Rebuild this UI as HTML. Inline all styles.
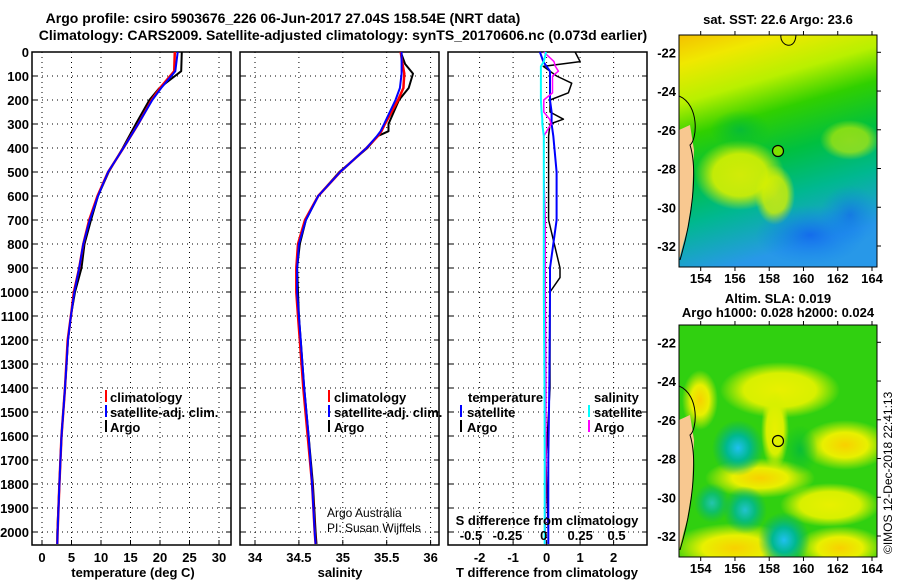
<!DOCTYPE html>
<html><head><meta charset="utf-8">
<style>
html,body{margin:0;padding:0;background:#fff;}
svg{display:block;font-family:"Liberation Sans",Arial,sans-serif;}
.t{font-weight:bold;font-size:14px;}
.tk{font-weight:bold;font-size:13px;}
</style></head>
<body>
<svg id="fig" width="900" height="580" viewBox="0 0 900 580" xmlns="http://www.w3.org/2000/svg">
<defs>
<linearGradient id="sstg" x1="0" y1="0" x2="0.25" y2="1">
<stop offset="0" stop-color="#f4c000"/><stop offset="0.12" stop-color="#f0e800"/>
<stop offset="0.28" stop-color="#b8f000"/><stop offset="0.42" stop-color="#30d000"/>
<stop offset="0.6" stop-color="#00c040"/><stop offset="0.78" stop-color="#00b890"/>
<stop offset="1" stop-color="#2898e8"/></linearGradient>
<radialGradient id="blueS"><stop offset="0" stop-color="#1060f0"/><stop offset="1" stop-color="#1080f0" stop-opacity="0"/></radialGradient>
<radialGradient id="yel"><stop offset="0" stop-color="#f8d000"/><stop offset="0.5" stop-color="#e8f000"/><stop offset="1" stop-color="#e8f000" stop-opacity="0"/></radialGradient>
<radialGradient id="yel2"><stop offset="0" stop-color="#e8f000"/><stop offset="0.6" stop-color="#d8f000"/><stop offset="1" stop-color="#d8f000" stop-opacity="0"/></radialGradient>
<radialGradient id="cy"><stop offset="0" stop-color="#20c0f0"/><stop offset="0.45" stop-color="#00b890"/><stop offset="1" stop-color="#00b070" stop-opacity="0"/></radialGradient>
<radialGradient id="grn"><stop offset="0" stop-color="#00b840"/><stop offset="1" stop-color="#00c030" stop-opacity="0"/></radialGradient>
<clipPath id="m1c"><rect x="679" y="35" width="198" height="232"/></clipPath>
<clipPath id="m2c"><rect x="679" y="325" width="198" height="232"/></clipPath>
</defs>

<text class="t" x="283" y="23" text-anchor="middle">Argo profile: csiro 5903676_226 06-Jun-2017 27.04S 158.54E (NRT data)</text>
<text class="t" x="343" y="40" text-anchor="middle">Climatology: CARS2009. Satellite-adjusted climatology: synTS_20170606.nc (0.073d earlier)</text>

<g id="panels"></g>

<g class="tk">
<line x1="106" y1="390" x2="106" y2="402" stroke="red" stroke-width="2"/><text x="110" y="402">climatology</text>
<line x1="106" y1="405" x2="106" y2="417" stroke="blue" stroke-width="2"/><text x="110" y="417">satellite-adj. clim.</text>
<line x1="106" y1="420" x2="106" y2="432" stroke="black" stroke-width="2"/><text x="110" y="432">Argo</text>
</g>
<g class="tk">
<line x1="329" y1="390" x2="329" y2="402" stroke="red" stroke-width="2"/><text x="334" y="402">climatology</text>
<line x1="329" y1="405" x2="329" y2="417" stroke="blue" stroke-width="2"/><text x="334" y="417">satellite-adj. clim.</text>
<line x1="329" y1="420" x2="329" y2="432" stroke="black" stroke-width="2"/><text x="334" y="432">Argo</text>
</g>
<g class="tk">
<text x="468" y="402">temperature</text><text x="594" y="402">salinity</text>
<line x1="461" y1="405" x2="461" y2="417" stroke="blue" stroke-width="2"/><text x="467" y="417">satellite</text>
<line x1="461" y1="420" x2="461" y2="432" stroke="black" stroke-width="2"/><text x="467" y="432">Argo</text>
<line x1="589" y1="405" x2="589" y2="417" stroke="cyan" stroke-width="2"/><text x="594" y="417">satellite</text>
<line x1="589" y1="420" x2="589" y2="432" stroke="magenta" stroke-width="2"/><text x="594" y="432">Argo</text>
</g>
<text x="327" y="517" font-size="12">Argo Australia</text>
<text x="327" y="532" font-size="12">PI: Susan Wijffels</text>
<text class="tk" x="547" y="525" text-anchor="middle">S difference from climatology</text>

<text class="tk" x="778" y="24" text-anchor="middle">sat. SST: 22.6 Argo: 23.6</text>
<g clip-path="url(#m1c)">
<rect x="679" y="35" width="198" height="232" fill="url(#sstg)"/>
<ellipse cx="740" cy="175" rx="45" ry="35" fill="url(#yel2)" opacity="0.9"/>
<ellipse cx="775" cy="195" rx="20" ry="30" fill="url(#yel2)" opacity="0.8"/>
<ellipse cx="850" cy="140" rx="30" ry="20" fill="url(#yel2)" opacity="0.6"/>
<ellipse cx="810" cy="235" rx="55" ry="30" fill="url(#blueS)" opacity="0.8"/>
<ellipse cx="850" cy="215" rx="30" ry="30" fill="url(#blueS)" opacity="0.6"/>
<ellipse cx="740" cy="130" rx="30" ry="20" fill="url(#grn)" opacity="0.8"/>
<polygon points="679,130 690,125 694,150 692,200 687,230 679,260" fill="#f8c890"/>
<path d="M679,96 C700,105 697,140 690,145 C698,170 692,220 680,260" fill="none" stroke="#000" stroke-width="1"/>
<path d="M781,35 C779,45 795,52 796,35" fill="none" stroke="#000"/>
<circle cx="778" cy="151" r="5.5" fill="#80e000" stroke="#000" stroke-width="1.2"/>
</g>
<rect x="679" y="35" width="198" height="232" fill="none" stroke="#000"/>

<text class="tk" x="778" y="303" text-anchor="middle">Altim. SLA: 0.019</text>
<text class="tk" x="778" y="317" text-anchor="middle">Argo h1000: 0.028 h2000: 0.024</text>
<g clip-path="url(#m2c)">
<rect x="679" y="325" width="198" height="232" fill="#30d010"/>
<ellipse cx="700" cy="400" rx="18" ry="30" fill="url(#yel)"/>
<ellipse cx="780" cy="390" rx="60" ry="28" fill="url(#yel2)"/>
<ellipse cx="845" cy="445" rx="45" ry="25" fill="url(#yel)"/>
<ellipse cx="760" cy="478" rx="55" ry="20" fill="url(#yel)"/>
<ellipse cx="830" cy="505" rx="50" ry="22" fill="url(#yel2)"/>
<ellipse cx="735" cy="548" rx="65" ry="25" fill="url(#yel)"/>
<ellipse cx="840" cy="548" rx="45" ry="22" fill="url(#yel)"/>
<ellipse cx="775" cy="430" rx="14" ry="40" fill="url(#yel2)"/>
<ellipse cx="738" cy="448" rx="26" ry="28" fill="url(#cy)"/>
<ellipse cx="745" cy="510" rx="22" ry="24" fill="url(#cy)" opacity="0.85"/>
<ellipse cx="712" cy="503" rx="18" ry="20" fill="url(#cy)" opacity="0.7"/>
<ellipse cx="784" cy="540" rx="26" ry="28" fill="url(#cy)"/>
<ellipse cx="800" cy="450" rx="18" ry="25" fill="url(#grn)" opacity="0.8"/>
<polygon points="679,420 690,415 694,440 692,490 687,520 679,550" fill="#f8c890"/>
<path d="M679,386 C700,395 697,430 690,435 C698,460 692,510 680,550" fill="none" stroke="#000" stroke-width="1"/>
<circle cx="778" cy="441" r="5.5" fill="none" stroke="#000" stroke-width="1.2"/>
</g>
<rect x="679" y="325" width="198" height="232" fill="none" stroke="#000"/>
<text font-size="12" transform="translate(892,554) rotate(-90)">©IMOS 12-Dec-2018 22:41:13</text>
<g id="mapaxes"></g>

<script>
const depthT = [0, 80, 150, 200, 300, 400, 500, 600, 700, 800, 900, 1000, 1100, 1200, 1400, 1600, 1800, 2000, 2050];
const tempClim = [22.5, 22.4, 20.0, 18.6, 16.3, 13.8, 11.2, 9.4, 8.0, 7.0, 6.3, 5.4, 4.9, 4.35, 3.9, 3.3, 2.95, 2.65, 2.6];
const tempSat = [23.0, 22.6, 20.2, 18.7, 16.3, 13.8, 11.2, 9.5, 8.1, 7.0, 6.3, 5.5, 4.9, 4.4, 3.9, 3.3, 2.95, 2.65, 2.6];
const tempArgo = [23.7, 23.6, 19.9, 18.2, 15.9, 13.7, 11.3, 9.5, 8.3, 7.2, 6.7, 5.6, 4.9, 4.4, 3.9, 3.3, 2.95, 2.6, 2.6];

const depthS = [0, 50, 90, 150, 200, 300, 330, 350, 400, 500, 600, 700, 800, 900, 1000, 1100, 1200, 1400, 1600, 1800, 2000, 2050];
const salClim = [35.66, 35.68, 35.70, 35.69, 35.63, 35.48, 35.44, 35.40, 35.27, 34.97, 34.72, 34.57, 34.49, 34.47, 34.47, 34.49, 34.51, 34.55, 34.6, 34.65, 34.68, 34.69];
const salSat = [35.67, 35.67, 35.67, 35.65, 35.60, 35.47, 35.43, 35.39, 35.27, 34.97, 34.72, 34.58, 34.50, 34.48, 34.48, 34.50, 34.52, 34.56, 34.61, 34.65, 34.68, 34.69];
const salArgo = [35.66, 35.71, 35.80, 35.75, 35.64, 35.52, 35.52, 35.40, 35.28, 34.96, 34.72, 34.58, 34.51, 34.48, 34.49, 34.50, 34.52, 34.56, 34.61, 34.66, 34.69, 34.70];

const depthD = [0, 40, 60, 80, 100, 130, 170, 200, 250, 280, 300, 350, 500, 700, 900, 940, 1000, 1400, 1700, 2000, 2050];
const tDiffArgo = [0.85, 1.0, -0.1, 0.1, 0.3, 0.75, 0.65, 0.1, 0.1, 0.5, 0.1, 0.06, 0.06, 0.06, 0.4, 0.4, 0.1, 0.1, -0.02, 0.05, 0.05];
const tDiffSat = [-0.2, -0.1, 0.0, 0.1, 0.1, 0.1, 0.1, 0.1, 0.15, 0.15, 0.15, 0.2, 0.3, 0.3, 0.1, 0.1, 0.1, 0.08, 0.05, 0.05, 0.05];
const sDiffSat = [0.015, 0.0, -0.02, -0.02, -0.02, -0.02, -0.02, -0.02, -0.015, -0.01, -0.01, 0.0, 0.0, 0.0, 0.0, 0.0, 0.0, 0.005, 0.006, 0.006, 0.006];
const sDiffArgo = [0.0, 0.07, 0.08, 0.1, 0.06, 0.06, 0.06, 0.0, 0.0, 0.04, 0.05, 0.0, 0.0, 0.01, 0.01, 0.01, 0.01, 0.015, 0.015, 0.01, 0.01];

const depthTicks = [0,100,200,300,400,500,600,700,800,900,1000,1100,1200,1300,1400,1500,1600,1700,1800,1900,2000];
const tempTicks = [0,5,10,15,20,25,30];
const salTicks = [34,34.5,35,35.5,36];
const salTickLabels = ["34","34.5","35","35.5","36"];
const tDiffTicks = [-2,-1,0,1,2];
const sDiffTicks = [-0.5,-0.25,0,0.25,0.5];
const sDiffTickLabels = ["-0.5","-0.25","0","0.25","0.5"];
const lonTicks = [154,156,158,160,162,164];
const latTicks = [-22,-24,-26,-28,-30,-32];

const NS = "http://www.w3.org/2000/svg";
const top0 = 52, pxPerM = 0.24, bottom = 545;
function yD(d){ return top0 + d*pxPerM; }
function lin(d0,d1,r0,r1){ return v => r0 + (v-d0)/(d1-d0)*(r1-r0); }
const xT = lin(0,30,42,219);
const xS = lin(34,36,255,430.6);
const xTD = lin(-2,2,479.6,613.6);
const xSD = lin(-0.5,0.5,471,616.6);
const xLon = lin(154,164,700.7,872);
const yLat1 = lin(-22,-32,52.3,246);
const yLat2 = lin(-22,-32,342.3,536);

function el(tag, attrs, parent){
  const e = document.createElementNS(NS, tag);
  for (const k in attrs) e.setAttribute(k, attrs[k]);
  parent.appendChild(e);
  return e;
}
const panels = document.getElementById('panels');

function panel(name, x0, x1, xs, ticks, labels, showDepth){
  const g = el('g', {}, panels);
  
  
  ticks.forEach(v => {
    const l = el('line', {x1:xs(v), x2:xs(v), y1:top0, y2:bottom, stroke:'#000', 'stroke-dasharray':'1,4', 'stroke-width':1}, g);
    
    
    el('line', {x1:xs(v), x2:xs(v), y1:bottom, y2:bottom-5, stroke:'#000'}, g);
  });
  depthTicks.forEach(d => {
    const l = el('line', {x1:x0, x2:x1, y1:yD(d), y2:yD(d), stroke:'#000', 'stroke-dasharray':'1,4', 'stroke-width':1}, g);
    
    
    el('line', {x1:x0, x2:x0+5, y1:yD(d), y2:yD(d), stroke:'#000'}, g);
    el('line', {x1:x1, x2:x1-5, y1:yD(d), y2:yD(d), stroke:'#000'}, g);
    if (showDepth){
      const t = el('text', {x:x0-3, y:yD(d)+5, 'text-anchor':'end', class:'tk'}, g);
      t.textContent = d;
      
      
    }
  });
  const fr = el('rect', {x:x0, y:top0, width:x1-x0, height:bottom-top0, fill:'none', stroke:'#000', 'stroke-width':1.5}, g);
  
  
  ticks.forEach((v,i) => {
    const t = el('text', {x:xs(v), y:562, 'text-anchor':'middle', class:'tk'}, g);
    t.textContent = labels[i];
    
    
  });
  return g;
}
function series(g, name, depths, vals, xs, color, w){
  const pts = depths.map((d,i) => xs(vals[i]).toFixed(1) + ',' + yD(d).toFixed(1)).join(' ');
  const p = el('polyline', {points:pts, fill:'none', stroke:color, 'stroke-width':w, 'stroke-linejoin':'round'}, g);
  
  
}
function xlabel(x, text, name){
  const t = el('text', {x:x, y:577, 'text-anchor':'middle', class:'tk'}, panels);
  t.textContent = text;
  
  
}

const gT = panel('temperature', 32, 231, xT, tempTicks, tempTicks.map(String), true);
series(gT, 'temp-argo-line', depthT, tempArgo, xT, '#000', 2);
series(gT, 'temp-climatology-line', depthT, tempClim, xT, 'red', 2.5);
series(gT, 'temp-satellite-line', depthT, tempSat, xT, 'blue', 2);
xlabel(133, 'temperature (deg C)', 'temperature-axis-title');

const gS = panel('salinity', 240, 439, xS, salTicks, salTickLabels, false);
series(gS, 'sal-argo-line', depthS, salArgo, xS, '#000', 2);
series(gS, 'sal-climatology-line', depthS, salClim, xS, 'red', 2.5);
series(gS, 'sal-satellite-line', depthS, salSat, xS, 'blue', 2);
xlabel(340, 'salinity', 'salinity-axis-title');

const gD = panel('difference', 448, 647, xTD, tDiffTicks, tDiffTicks.map(String), false);
series(gD, 'tdiff-argo-line', depthD, tDiffArgo, xTD, '#000', 1.5);
series(gD, 'tdiff-satellite-line', depthD, tDiffSat, xTD, 'blue', 2);
series(gD, 'sdiff-argo-line', depthD, sDiffArgo, xSD, 'magenta', 1.5);
series(gD, 'sdiff-satellite-line', depthD, sDiffSat, xSD, 'cyan', 2);
sDiffTicks.forEach((v,i) => {
  const t = el('text', {x:xSD(v), y:540, 'text-anchor':'middle', class:'tk'}, gD);
  t.textContent = sDiffTickLabels[i];
  
  
});
xlabel(547, 'T difference from climatology', 'tdiff-axis-title');

const ma = document.getElementById('mapaxes');
[[35,267,yLat1],[325,557,yLat2]].forEach(([y0,y1,yl]) => {
  lonTicks.forEach(v => {
    el('line', {x1:xLon(v), x2:xLon(v), y1:y1, y2:y1+4, stroke:'#000'}, ma);
    el('line', {x1:xLon(v), x2:xLon(v), y1:y0, y2:y0-4, stroke:'#000'}, ma);
    const t = el('text', {x:xLon(v), y:y1+16, 'text-anchor':'middle', class:'tk'}, ma);
    t.textContent = v;
    
    
  });
  latTicks.forEach(v => {
    el('line', {x1:877, x2:881, y1:yl(v), y2:yl(v), stroke:'#000'}, ma);
    const t = el('text', {x:676, y:yl(v)+5, 'text-anchor':'end', class:'tk'}, ma);
    t.textContent = v;
    
    
  });
});
</script>
</svg>
</body></html>
